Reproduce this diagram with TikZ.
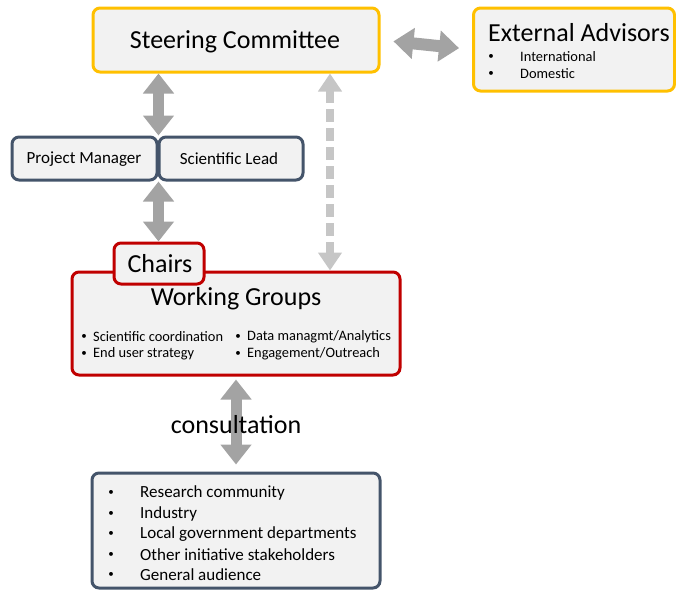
\documentclass[tikz,border=0pt]{standalone}
\usepackage{fontspec}
\setmainfont{Carlito}
\usetikzlibrary{arrows.meta}
\definecolor{boxfill}{HTML}{F2F2F2}
\definecolor{yel}{HTML}{FFC000}
\definecolor{redb}{HTML}{C00000}
\definecolor{slate}{HTML}{44546A}
\definecolor{arrg}{HTML}{A3A3A3}
\definecolor{arrl}{HTML}{C6C6C6}
\newcommand{\fsz}[1]{\fontsize{#1}{#1}\selectfont}
\begin{document}
\begin{tikzpicture}[x=1pt,y=-1pt,
  box/.style={draw, fill=boxfill, line width=3pt, rounded corners=7pt, inner sep=0pt},
  ybox/.style={box, draw=yel},
  rbox/.style={box, draw=redb},
  sbox/.style={box, draw=slate},
  fat/.style={arrg, line width=11pt, {Triangle[width=30pt,length=20pt]}-{Triangle[width=30pt,length=20pt]}},
  fath/.style={arrg, line width=12pt, {Triangle[width=30pt,length=20pt]}-{Triangle[width=30pt,length=20pt]}},
  dashfat/.style={arrl, line width=8pt, dash pattern=on 13pt off 6pt, {Triangle[width=23pt,length=18pt]}-{Triangle[width=23pt,length=18pt]}},
  big/.style={font=\fsz{26}, inner sep=0pt},
  mid/.style={font=\fsz{17}, inner sep=0pt},
  small/.style={font=\fsz{14.4}, inner sep=0pt},
  tiny/.style={font=\fsz{14.4}, inner sep=0pt},
  list/.style={font=\fsz{17}, inner sep=0pt},
  dot/.style={font=\fsz{11}, inner sep=0pt}
]
\useasboundingbox (0,0) rectangle (676,590);

% boxes
\node[ybox, minimum width=286pt, minimum height=64pt] (sc) at (236,40) {};
\node[big] (sct) at (235,42) {Steering Committee};

\node[ybox, minimum width=201pt, minimum height=83pt] (ea) at (574,49.5) {};
\node[big, anchor=west] (eat) at (488,33) {External Advisors};
\node[dot] (ead1) at (491,57) {\textbullet};
\node[tiny, anchor=west] (eai1) at (520,57) {International};
\node[dot] (ead2) at (491,74) {\textbullet};
\node[tiny, anchor=west] (eai2) at (520,74) {Domestic};

\node[sbox, minimum width=145pt, minimum height=43pt] (pm) at (84.5,158.5) {};
\node[mid] (pmt) at (84,159) {Project Manager};
\node[sbox, minimum width=144pt, minimum height=43pt] (sl) at (231,158.5) {};
\node[mid] (slt) at (229,159) {Scientific Lead};

\node[rbox, minimum width=328pt, minimum height=103pt] (wg) at (236,323.5) {};
\node[big] (wgt) at (236,299) {Working Groups};
\node[dot] (wd1) at (84,337) {\textbullet};
\node[small, anchor=west] (wi1) at (93,337) {Scientific coordination};
\node[dot] (wd2) at (84,354) {\textbullet};
\node[small, anchor=west] (wi2) at (93,354) {End user strategy};
\node[dot] (wd3) at (238,337) {\textbullet};
\node[small, anchor=west] (wi3) at (247,337) {Data managmt/Analytics};
\node[dot] (wd4) at (238,354) {\textbullet};
\node[small, anchor=west] (wi4) at (247,354) {Engagement/Outreach};

\node[rbox, minimum width=90pt, minimum height=41pt] (ch) at (159,263.5) {};
\node[big] (cht) at (160,264) {Chairs};

\node[sbox, minimum width=288pt, minimum height=115pt] (bot) at (236,530.5) {};
\foreach \t [count=\i] in {Research community, Industry, Local government departments, Other initiative stakeholders, General audience}{
  \node[dot] (bd\i) at (111,472.5+20.5*\i) {\textbullet};
  \node[list, anchor=west] (bi\i) at (140,472.5+20.5*\i) {\t};
}

% connectors
\draw[fath, shorten <=13pt, shorten >=13pt] (sc.east) -- (ea.west);
\draw[fat] (pm.north east |- sc.south) -- (pm.north east);
\draw[fat] (pm.south east) -- (pm.south east |- ch.north);
\draw[dashfat] (330,0 |- sc.south) -- (330,0 |- wg.north);
\draw[fat, shorten <=3pt, shorten >=7pt] (wg.south) -- (bot.north);
\node[big] (cons) at (236,425) {consultation};
\end{tikzpicture}
\end{document}
